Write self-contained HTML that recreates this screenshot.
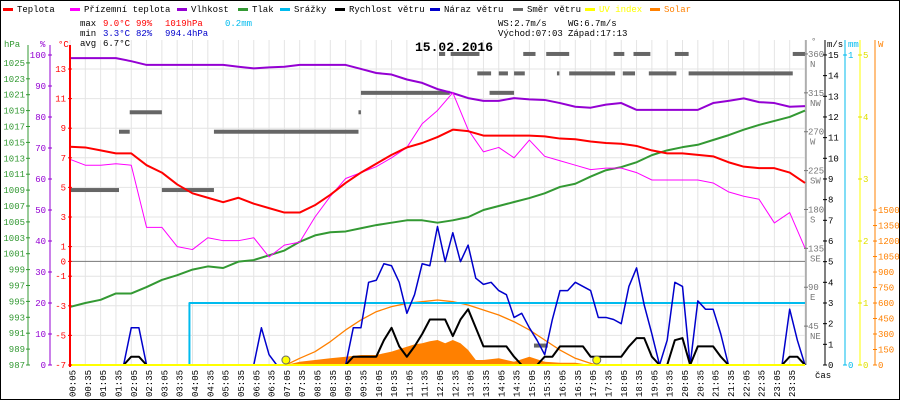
<!DOCTYPE html>
<html><head><meta charset="utf-8"><style>
html,body{margin:0;padding:0;background:#fff}
svg{display:block}
text{font-family:"Liberation Mono",monospace;font-size:9px}
</style></head><body>
<svg id="c" width="900" height="400" viewBox="0 0 900 400">
<rect x="0.5" y="0.5" width="899" height="399" fill="#fff" stroke="#000"/>
<g id="grid"></g>
<g id="marks"></g>
<g id="axes"></g>
<g id="legend"></g>
<g>
<text x="80" y="26" fill="#000">max</text>
<text x="103" y="26" fill="#f00">9.0°C</text>
<text x="136" y="26" fill="#f00">99%</text>
<text x="165" y="26" fill="#f00">1019hPa</text>
<text x="225" y="26" fill="#00bbee">0.2mm</text>
<text x="80" y="36" fill="#000">min</text>
<text x="103" y="36" fill="#0000cc">3.3°C</text>
<text x="136" y="36" fill="#0000cc">82%</text>
<text x="165" y="36" fill="#0000cc">994.4hPa</text>
<text x="80" y="46" fill="#000">avg</text>
<text x="103" y="46" fill="#000">6.7°C</text>
<text x="498" y="26" fill="#000">WS:2.7m/s</text>
<text x="568" y="26" fill="#000">WG:6.7m/s</text>
<text x="498" y="36" fill="#000">Východ:07:03</text>
<text x="568" y="36" fill="#000">Západ:17:13</text>
<text x="415" y="51" fill="#000" style="font-size:13px;font-weight:bold">15.02.2016</text>
</g>
</svg>
<script>
// ---- data (half-hour samples, 0..24h) ----
const hours=[0,0.5,1,1.5,2,2.5,3,3.5,4,4.5,5,5.5,6,6.5,7,7.5,8,8.5,9,9.5,10,10.5,11,11.5,12,12.5,13,13.5,14,14.5,15,15.5,16,16.5,17,17.5,18,18.5,19,19.5,20,20.5,21,21.5,22,22.5,23,23.5,24];
const tempVals=[7.75,7.7,7.5,7.3,7.3,6.5,6.0,5.2,4.6,4.3,4.0,4.3,3.9,3.6,3.3,3.3,3.8,4.5,5.3,6.0,6.6,7.2,7.7,8.0,8.4,8.9,8.8,8.5,8.5,8.5,8.5,8.45,8.3,8.25,8.1,8.0,7.95,7.8,7.5,7.3,7.3,7.2,7.1,6.7,6.4,6.3,6.3,6.0,5.3];
const chillVals=[6.9,6.5,6.5,6.6,6.5,2.3,2.3,1.0,0.8,1.6,1.4,1.4,1.6,0.3,1.1,1.3,3.0,4.4,5.6,6.0,6.4,7.0,7.7,9.3,10.2,11.4,8.9,7.4,7.7,7.0,8.2,7.1,6.8,6.5,6.2,6.3,6.3,6.0,5.5,5.5,5.5,5.5,5.3,4.7,4.4,4.2,2.6,3.3,0.9];
const humVals=[99,99,99,99,98,96.8,96.8,96.8,96.8,96.8,96.8,96.2,95.7,96,96.2,96.8,96.8,96.8,96.8,95.5,94.2,93.7,92.1,91,89,87.7,86.1,85.2,85.2,86.1,85.7,85.5,84.5,83.3,83,84,84.5,82.3,82.3,82.3,82.3,82.3,84.5,85.2,86,84.8,84.5,83.3,83.5];
const presVals=[994.3,994.8,995.2,996,996,996.8,997.7,998.3,999,999.4,999.2,1000,1000.2,1000.8,1001.4,1002.5,1003.3,1003.7,1003.8,1004.2,1004.6,1004.9,1005.2,1005.2,1004.9,1005.2,1005.6,1006.5,1007,1007.5,1008,1008.6,1009.4,1009.8,1010.7,1011.5,1011.9,1012.5,1013.4,1014,1014.4,1014.7,1015.3,1015.9,1016.6,1017.2,1017.7,1018.2,1019];
// wind (quarter-hour samples, m/s)
const gustVals=[0,0,0,0,0,0,0,0,1.8,1.8,0,0,0,0,0,0,0,0,0,0,0,0,0,0,0,1.8,0.5,0,0,0,0,0,0,0,0,0,0,1.8,1.8,4,4.1,4.9,4.8,4,2.5,3.4,4.9,4.8,6.7,5.0,6.4,5.0,5.8,4.2,3.9,4.0,3.6,3.4,2.3,2.5,1.8,1.2,0.5,2.2,3.6,3.6,4.0,3.8,3.6,2.3,2.3,2.2,2.0,3.8,4.7,2.9,1.5,0,1.2,4.0,3.8,0,3.1,2.7,2.7,1.5,0,0,0,0,0,0,0,0,2.7,1.2,0];
const speedVals=[0,0,0,0,0,0,0,0,0.4,0.4,0,0,0,0,0,0,0,0,0,0,0,0,0,0,0,0,0,0,0,0,0,0,0,0,0,0,0,0.4,0.4,0.4,0.4,1.2,1.8,0.9,0.4,0.9,1.5,2.2,2.2,2.2,1.4,2.2,2.7,1.8,0.9,0.9,0.9,0.9,0.4,0,0,0,0.4,0.4,0.9,0.9,0.9,0.9,0.4,0.4,0.4,0.4,0.4,0.9,1.3,1.3,0.4,0,0,1.2,1.3,0,0.9,0.9,0.9,0.4,0,0,0,0,0,0,0,0,0.4,0.4,0];
// rain cumulative (mm) events
const rainTimes=[0,3.9,24];
const rainVals=[0,0.2,0.2];
// wind direction segments
const dirStart=[0,1.6,1.95,3.0,4.7,9.42,9.5,12.05,12.43,13.3,13.7,14.0,14.5,14.8,15.15,15.55,15.9,16.3,17.75,18.05,18.4,18.9,19.75,20.2,23.6];
const dirEnd=[1.6,1.95,3.0,4.7,9.42,9.5,12.4,12.25,13.37,13.75,14.5,14.3,14.85,15.2,15.6,16.3,15.98,17.8,18.1,18.45,18.95,19.8,20.2,23.6,24];
const dirVals=[202.5,270,292.5,202.5,270,292.5,315,360,360,337.5,315,337.5,337.5,360,22.5,360,337.5,337.5,360,337.5,360,337.5,360,337.5,360];
// solar (W/m2)
const solarHours=[7.05,7.5,8,8.5,9,9.5,10,10.5,11,11.25,11.5,11.75,12,12.25,12.5,12.75,13,13.25,13.5,14,14.5,15,15.5,16,16.5,17,17.2];
const solarVals=[0,32,48,65,80,97,97,130,177,200,210,230,242,210,242,210,145,48,48,65,32,80,32,22,22,0,0];
const clearHours=[7.05,7.5,8,8.5,9,9.5,10,10.5,11,11.5,12,12.5,13,13.5,14,14.5,15,15.5,16,16.5,17,17.2];
const clearVals=[0,65,129,226,339,436,516,565,597,613,629,613,581,532,484,419,339,242,145,65,16,0];
const sunEvents=[7.05,17.2];
const tempTicks=[13,11,9,7,5,3,1,0,-1,-3,-5,-7];
const presTicks=[1025,1023,1021,1019,1017,1015,1013,1011,1009,1007,1005,1003,1001,999,997,995,993,991,989,987];
const humTicks=[100,90,80,70,60,50,40,30,20,10,0];
const windTicks=[15,14,13,12,11,10,9,8,7,6,5,4,3,2,1,0];
const dirTicks=[360,315,270,225,180,135,90,45];
const dirNames=["N","NW","W","SW","S","SE","E","NE"];
const uvTicks=[5,4,3,2,1,0];
const wTicks=[1500,1350,1200,1050,900,750,600,450,300,150,0];
const timeLabels=["00:05","00:35","01:05","01:35","02:05","02:35","03:05","03:35","04:05","04:35","05:05","05:35","06:05","06:35","07:05","07:35","08:05","08:35","09:05","09:35","10:05","10:35","11:05","11:35","12:05","12:35","13:05","13:35","14:05","14:35","15:05","15:35","16:05","16:35","17:05","17:35","18:05","18:35","19:05","19:35","20:05","20:35","21:05","21:35","22:05","22:35","23:05","23:35"];

// ---- scales ----
const X0=70,X1=805,YB=365;
const xS=h=>X0+h*(X1-X0)/24;
const yT=t=>YB-(t+7)*14.8;
const yP=p=>YB-(p-987)*7.95;
const yH=v=>YB-v*3.1;
const yW=v=>YB-v*20.67;
const yD=d=>YB-d*0.864;
const yMM=m=>YB-m*310;
const yUV=u=>YB-u*62;
const ySol=w=>YB-w*0.1033;
const NS="http://www.w3.org/2000/svg";
function mk(tag,attrs,parent){const e=document.createElementNS(NS,tag);for(const k in attrs)e.setAttribute(k,attrs[k]);parent.appendChild(e);return e;}
const G=document.getElementById('grid'),M=document.getElementById('marks'),A=document.getElementById('axes'),L=document.getElementById('legend');

// grid
for(let i=0;i<=48;i++){const x=xS(i*0.5);const l=mk('line',{x1:x,x2:x,y1:40,y2:YB,stroke:'#e4e4e4','stroke-width':1},G);

}
[13,11,9,7,5,3,1,-1,-3,-5].forEach(t=>{const l=mk('line',{x1:X0,x2:X1,y1:yT(t),y2:yT(t),stroke:'#e4e4e4'},G);

});
const zl=mk('line',{x1:X0,x2:X1,y1:yT(0),y2:yT(0),stroke:'#777'},G);



function poly(xs,ys,color,w,name,step){let pts=[];for(let i=0;i<xs.length;i++){if(step&&i>0)pts.push(xs[i]+','+ys[i-1]);pts.push(xs[i]+','+ys[i]);}
const p=mk('polyline',{points:pts.join(' '),fill:'none',stroke:color,'stroke-width':w,'stroke-linejoin':'round'},M);

return p;}

// solar fill
{let pts=solarHours.map((h,i)=>xS(h)+','+ySol(solarVals[i]));pts.push(xS(solarHours[solarHours.length-1])+','+YB);pts.unshift(xS(solarHours[0])+','+YB);
const p=mk('polygon',{points:pts.join(' '),fill:'#ff8000'},M);

}
poly(clearHours.map(xS),clearVals.map(ySol),'#ff8000',1.3,'solar-theoretical-line');
// direction
dirVals.forEach((d,i)=>{const r=mk('rect',{x:xS(dirStart[i]),y:yD(d)-2,width:Math.max(2,xS(dirEnd[i])-xS(dirStart[i])),height:4,fill:'#666'},M);

});
// rain
poly(rainTimes.map(xS),rainVals.map(yMM),'#00bbee',2,'rain-line',true);
const q=gustVals.map((v,i)=>xS(i*0.25));
poly(q,gustVals.map(yW),'#0000cc',1.5,'gust-line');
poly(q,speedVals.map(yW),'#000',2,'wind-speed-line');
poly(hours.map(xS),presVals.map(yP),'#339933',2,'pressure-line');
poly(hours.map(xS),humVals.map(yH),'#9400d3',2,'humidity-line');
poly(hours.map(xS),chillVals.map(yT),'#ff00ff',1,'windchill-line');
poly(hours.map(xS),tempVals.map(yT),'#ff0000',2,'temperature-line');
// uv line
{const l=mk('line',{x1:X0,x2:X1,y1:YB,y2:YB,stroke:'#ffff00','stroke-width':2},M);

}
sunEvents.forEach(h=>{const c=mk('circle',{cx:xS(h),cy:YB-5,r:4,fill:'#ffff00',stroke:'#666','stroke-width':1},M);

});

// axes
function vaxis(x,y1,y2,color,name){const l=mk('line',{x1:x,x2:x,y1:y1,y2:y2,stroke:color,'stroke-width':x===X0?2:1},A);

}
function lbl(x,y,s,color,anchor,name){const t=mk('text',{x:x,y:y,fill:color,'text-anchor':anchor||'start'},A);t.textContent=s;

return t;}
function tick(x,y,color,len){mk('line',{x1:x-len,x2:x+len,y1:y,y2:y,stroke:color},A);}
vaxis(28,45,YB,'#339933','pressure-axis');vaxis(50,45,YB,'#9400d3','humidity-axis');vaxis(X0,45,YB+2,'#ff0000','temperature-axis');
presTicks.forEach(p=>{tick(28,yP(p),'#339933',2);lbl(25,yP(p)+3,String(p),'#339933','end','pressure-tick');});
humTicks.forEach(h=>{tick(50,yH(h),'#9400d3',2);lbl(46,yH(h)+3,String(h),'#9400d3','end','humidity-tick');});
tempTicks.forEach(t=>{tick(X0,yT(t),'#ff0000',2);lbl(66,yT(t)+3,String(t),'#ff0000','end','temperature-tick');});
lbl(4,47,'hPa','#339933','start','pressure-unit');lbl(40,47,'%','#9400d3','start','humidity-unit');lbl(58,47,'°C','#ff0000','start','temperature-unit');
vaxis(806,40,YB,'#777','direction-axis');vaxis(825,40,YB,'#000','wind-axis');vaxis(845,40,YB,'#00bbee','rain-axis');vaxis(860,40,YB,'#ffff00','uv-axis');vaxis(875,40,YB,'#ff8000','solar-axis');
dirTicks.forEach((d,i)=>{tick(806,yD(d),'#777',2);lbl(808,yD(d)+3,String(d),'#777','start','direction-tick');lbl(810,yD(d)+13,dirNames[i],'#777','start','direction-name');});
windTicks.forEach(v=>{tick(825,yW(v),'#000',2);lbl(828,yW(v)+3,String(v),'#000','start','wind-tick');});
[1,0].forEach(m=>{tick(845,yMM(m),'#00bbee',2);lbl(848,yMM(m)+3,String(m),'#00bbee','start','rain-tick');});
uvTicks.forEach(u=>{tick(860,yUV(u),'#e0e000',2);lbl(863,yUV(u)+3,String(u),'#e0e000','start','uv-tick');});
wTicks.forEach(w=>{tick(875,ySol(w),'#ff8000',2);lbl(878,ySol(w)+3,String(w),'#ff8000','start','solar-tick');});
lbl(811,44,'°','#777','start','direction-unit');lbl(827,47,'m/s','#000','start','wind-unit');lbl(848,47,'mm','#00bbee','start','rain-unit');lbl(878,47,'W','#ff8000','start','solar-unit');
lbl(815,378,'čas','#000','start','time-axis-title');
timeLabels.forEach((s,i)=>{const x=xS(i*0.5+5/60);const t=mk('text',{x:0,y:0,fill:'#000',transform:`translate(${x+3},397) rotate(-90)`},A);t.textContent=s;

});

// legend
const legNames=["Teplota","Přízemní teplota","Vlhkost","Tlak","Srážky","Rychlost větru","Náraz větru","Směr větru","UV index","Solar"];
const legColors=["#ff0000","#ff00ff","#9400d3","#339933","#00bbee","#000","#0000cc","#666","#ffff00","#ff8000"];
const legX=[3,70,177,238,280,335,430,513,585,650];
legNames.forEach((n,i)=>{const g=mk('g',{},L);


mk('rect',{x:legX[i],y:8,width:10,height:3,fill:legColors[i]},g);
const t=mk('text',{x:legX[i]+14,y:12,fill:i>=8?legColors[i]:'#000'},g);t.textContent=n;});
</script>
</body></html>
